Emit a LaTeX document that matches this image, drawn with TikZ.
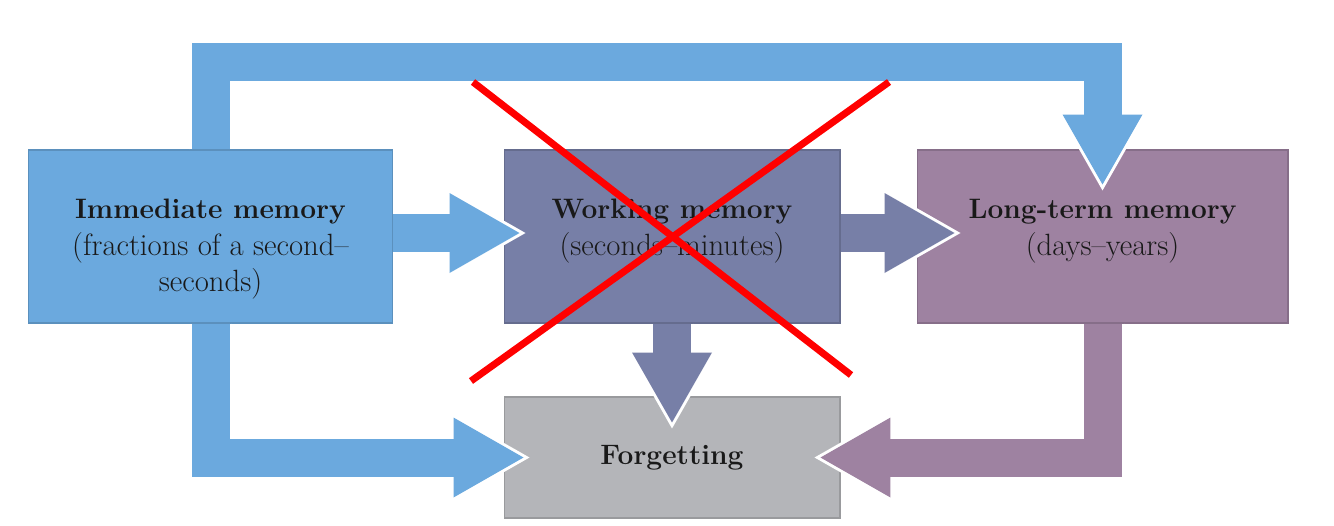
\documentclass[tikz,border=0pt]{standalone}
\usetikzlibrary{arrows.meta}

\definecolor{immblue}{HTML}{6BA9DE}
\definecolor{workslate}{HTML}{777FA7}
\definecolor{ltmpurple}{HTML}{9E82A1}
\definecolor{forgetgray}{HTML}{B4B5B9}

\newcommand{\storename}[1]{{\fontsize{16}{20.8}\selectfont\bfseries #1}}

\begin{document}
\begin{tikzpicture}[
  x=0.02cm, y=-0.02cm,
  font=\fontsize{17.5}{20.8}\selectfont,
  box/.style={draw=#1!85!black, fill=#1, line width=0.6pt, align=center, inner sep=0pt, text=black!90},
  boxtext/.style={anchor=north, align=center, inner sep=0pt, text=black!90},
  flow/.style={draw=#1, line width=0.76cm, -{Triangle[width=1.6cm, length=1.4cm, line width=0pt]}},
  halo/.style={draw=white, line width=0.88cm, shorten >=-0.12cm, -{Triangle[width=1.8cm, length=1.58cm, line width=0pt]}},
  cross/.style={draw=red, line width=0.14cm}
]
\useasboundingbox (0,0) rectangle (1334,525);

% the four stores
\node[box=immblue,    minimum width=7.3cm,  minimum height=3.46cm] (imm)    at (210.5,236.5) {};
\node[box=workslate,  minimum width=6.72cm, minimum height=3.46cm] (work)   at (672,236.5) {};
\node[box=ltmpurple,  minimum width=7.42cm, minimum height=3.46cm] (ltm)    at (1102.5,236.5) {};
\node[box=forgetgray, minimum width=6.72cm, minimum height=2.42cm] (forget) at (672,457.5)
  {\storename{Forgetting}};

% texts hang from one common top line
\coordinate (texttop) at (0,199);
\node[boxtext] (immtext)  at (imm.center |- texttop)
  {\storename{Immediate memory}\\(fractions of a second--\\seconds)};
\node[boxtext] (worktext) at (work.center |- texttop)
  {\storename{Working memory}\\(seconds--minutes)};
\node[boxtext] (ltmtext)  at (ltm.center |- texttop)
  {\storename{Long-term memory}\\(days--years)};

\coordinate (topbar) at (0,62);

% white rims first, so every head cuts into the box it points at
\draw[halo] ([yshift=0.07cm]imm.east) -- ([xshift=0.32cm, yshift=0.07cm]work.west);
\draw[halo] ([yshift=0.07cm]work.east) -- ([xshift=0.76cm, yshift=0.07cm]ltm.west);
\draw[halo] (imm.north) -- (imm.north |- topbar) -| ([yshift=-0.7cm]ltm.north);
\draw[halo] (imm.south) |- ([xshift=0.4cm]forget.west);
\draw[halo] (work.south) -- ([yshift=-0.52cm]forget.north);
\draw[halo] (ltm.south) |- ([xshift=-0.4cm]forget.east);

\draw[flow=immblue]   ([yshift=0.07cm]imm.east) -- ([xshift=0.32cm, yshift=0.07cm]work.west);
\draw[flow=workslate] ([yshift=0.07cm]work.east) -- ([xshift=0.76cm, yshift=0.07cm]ltm.west);
\draw[flow=immblue]   (imm.north) -- (imm.north |- topbar) -| ([yshift=-0.7cm]ltm.north);
\draw[flow=immblue]   (imm.south) |- ([xshift=0.4cm]forget.west);
\draw[flow=workslate] (work.south) -- ([yshift=-0.52cm]forget.north);
\draw[flow=ltmpurple] (ltm.south) |- ([xshift=-0.4cm]forget.east);

% the red cross over working memory
\coordinate (xa) at (473,82);
\coordinate (xb) at (851,375);
\coordinate (xc) at (889,82);
\coordinate (xd) at (471,381);
\draw[cross] (xa) -- (xb);
\draw[cross] (xc) -- (xd);
\end{tikzpicture}
\end{document}
